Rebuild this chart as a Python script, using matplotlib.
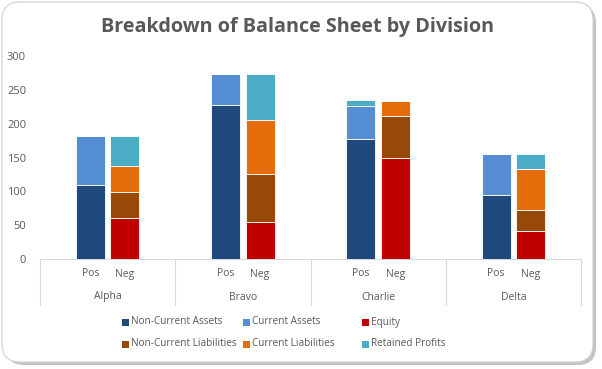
import matplotlib.pyplot as plt
import numpy as np
from matplotlib.patches import FancyBboxPatch, Rectangle
from matplotlib.lines import Line2D

# Divisions and the two stacks per division
divisions = ["Alpha", "Bravo", "Charlie", "Delta"]
sides = ["Pos", "Neg"]

# Values per bar, order: Alpha Pos, Alpha Neg, Bravo Pos, Bravo Neg, ...
non_current_assets = [109, 0, 228, 0, 177, 0, 94, 0]
current_assets = [73, 0, 46, 0, 49, 0, 61, 0]
equity = [0, 60, 0, 54, 0, 150, 0, 41]
non_current_liabilities = [0, 39, 0, 71, 0, 62, 0, 31]
current_liabilities = [0, 39, 0, 80, 0, 22, 0, 61]
retained_profits = [0, 44, 0, 69, 9, 0, 0, 22]

series = [
    ("Non-Current Assets", non_current_assets, "#1F497D"),
    ("Current Assets", current_assets, "#558ED5"),
    ("Equity", equity, "#C00000"),
    ("Non-Current Liabilities", non_current_liabilities, "#984807"),
    ("Current Liabilities", current_liabilities, "#E46C0A"),
    ("Retained Profits", retained_profits, "#4BACC6"),
]

text_col = "#595959"
line_col = "#D9D9D9"
plt.rcParams['font.family'] = ['Open Sans', 'DejaVu Sans']

W, H = 602, 369
fig = plt.figure(figsize=(W / 100, H / 100), dpi=100)

# Chart frame with a soft shadow
shadow = FancyBboxPatch((6 / W, 4 / H), 590 / W, 360 / H, boxstyle="round,pad=0,rounding_size=0.03",
                        transform=fig.transFigure, facecolor="#C4C4C4", edgecolor="none",
                        mutation_aspect=W / H, zorder=-3)
frame = FancyBboxPatch((2 / W, 7 / H), 591 / W, 360 / H, boxstyle="round,pad=0,rounding_size=0.03",
                       transform=fig.transFigure, facecolor="white", edgecolor="#D0D0D0",
                       linewidth=0.8, mutation_aspect=W / H, zorder=-2)
fig.patches.extend([shadow, frame])

ax = fig.add_axes([40 / W, 1 - 259 / H, 541 / W, 203 / H])
ax.patch.set_alpha(0)

offset = 0.127
width = 0.215
x = []
for i in range(len(divisions)):
    x += [i - offset, i + offset]
x = np.array(x)

bottom = np.zeros(len(x))
for name, vals, col in series:
    vals = np.array(vals, dtype=float)
    ax.bar(x, vals, width, bottom=bottom, color=col, edgecolor="white", linewidth=0.6, zorder=3)
    bottom += vals

ax.set_xlim(-0.5, 3.5)
ax.set_ylim(0, 300)
ax.set_yticks(range(0, 301, 50))
ax.tick_params(axis='y', length=0, labelsize=8, labelcolor=text_col, pad=10)
ax.set_xticks([])
for s in ["top", "right", "left"]:
    ax.spines[s].set_visible(False)
ax.spines["bottom"].set_color(line_col)
ax.spines["bottom"].set_linewidth(0.8)

# Two-level category axis
tr = ax.get_xaxis_transform()
for b in np.arange(-0.5, 4.0, 1.0):
    ax.add_line(Line2D([b, b], [0, -46 / 203], transform=tr, color=line_col,
                       linewidth=0.8, clip_on=False))
for i, d in enumerate(divisions):
    ax.text(i - offset, -15 / 203, sides[0], transform=tr, ha="center", va="center",
            fontsize=7.5, color=text_col)
    ax.text(i + offset, -15 / 203, sides[1], transform=tr, ha="center", va="center",
            fontsize=7.5, color=text_col)
    ax.text(i, -38 / 203, d, transform=tr, ha="center", va="center",
            fontsize=7.5, color=text_col)

fig.text(298 / W, 1 - 27 / H, "Breakdown of Balance Sheet by Division", ha="center", va="center",
         fontsize=14.2, fontweight="bold", color=text_col)

# Legend laid out in fixed-width columns, filled row by row
col_x = [122, 243, 362]
row_y = [322, 344]
for k, (name, vals, col) in enumerate(series):
    cx = col_x[k % 3]
    cy = row_y[k // 3]
    fig.patches.append(Rectangle((cx / W, 1 - (cy + 3.5) / H), 7 / W, 7 / H,
                                 transform=fig.transFigure, facecolor=col, edgecolor="none"))
    fig.text((cx + 9) / W, 1 - cy / H, name, ha="left", va="center",
             fontsize=7.2, color=text_col)

fig.savefig("out.png", dpi=100, facecolor="white")
